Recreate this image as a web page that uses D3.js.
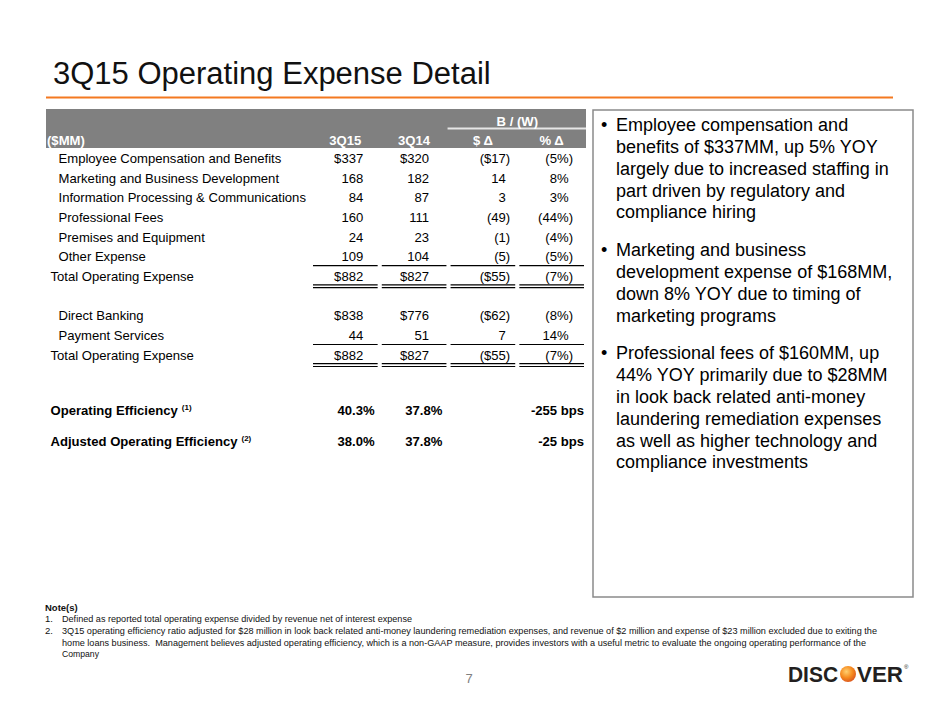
<!DOCTYPE html>
<html>
<head>
<meta charset="utf-8">
<script src="https://cdn.jsdelivr.net/npm/d3@7"></script>
<style>
  body { margin: 0; background: #fff; }
  svg { display: block; font-family: "Liberation Sans", Arial, sans-serif; }
</style>
</head>
<body>
<div id="drawing_region"></div>
<script>
// ---- data ----
const columns = ["3Q15", "3Q14", "$ Δ", "% Δ"];

const expenseLabels = [
    "Employee Compensation and Benefits",
    "Marketing and Business Development",
    "Information Processing & Communications",
    "Professional Fees",
    "Premises and Equipment",
    "Other Expense"
];
const exp3Q15 = [337, 168, 84, 160, 24, 109];
const exp3Q14 = [320, 182, 87, 111, 23, 104];
const expDollarChg = [-17, 14, 3, -49, -1, -5];
const expPctChg = [-5, 8, 3, -44, -4, -5];

const totalLabel = "Total Operating Expense";
const totalVals = [882, 827, -55, -7];

const segmentLabels = ["Direct Banking", "Payment Services"];
const seg3Q15 = [838, 44];
const seg3Q14 = [776, 51];
const segDollarChg = [-62, 7];
const segPctChg = [-8, 14];

const effLabels = ["Operating Efficiency", "Adjusted Operating Efficiency"];
const effNotes = ["(1)", "(2)"];
const eff3Q15 = [40.3, 38.0];
const eff3Q14 = [37.8, 37.8];
const effBps = [-255, -25];

const bullets = [
    ["Employee compensation and", "benefits of $337MM, up 5% YOY", "largely due to increased staffing in",
     "part driven by regulatory and", "compliance hiring"],
    ["Marketing and business", "development expense of $168MM,", "down 8% YOY due to timing of",
     "marketing programs"],
    ["Professional fees of $160MM, up", "44% YOY primarily due to $28MM", "in look back related anti-money",
     "laundering remediation expenses", "as well as higher technology and", "compliance investments"]
];

const noteLines = [
    {num: "1.", text: "Defined as reported total operating expense divided by revenue net of interest expense", w: 350},
    {num: "2.", text: "3Q15 operating efficiency ratio adjusted for $28 million in look back related anti-money laundering remediation expenses, and revenue of $2 million and expense of $23 million excluded due to exiting the", w: 815},
    {num: "", text: "home loans business.  Management believes adjusted operating efficiency, which is a non-GAAP measure, provides investors with a useful metric to evaluate the ongoing operating performance of the", w: 804},
    {num: "", text: "Company", w: 37}
];

// ---- helpers ----
const money = (v, dollar) => {
    const s = (dollar ? "$" : "") + Math.abs(v);
    return v < 0 ? `(${s})` : s;
};
const pct = v => v < 0 ? `(${Math.abs(v)}%)` : `${v}%`;

const svg = d3.select("#drawing_region").append("svg")
    .attr("width", 940)
    .attr("height", 705);

// title + orange rule
svg.append("text")
    .attr("x", 53).attr("y", 84)
    .attr("font-size", 31)
    .attr("fill", "#111")
    .text("3Q15 Operating Expense Detail");

svg.append("line")
    .attr("x1", 46).attr("x2", 893)
    .attr("y1", 97.5).attr("y2", 97.5)
    .attr("stroke", "#f47920")
    .attr("stroke-width", 2);

// ---- table ----
const fs = 13.1;
const parenW = 4.4;   // room kept for ")" on positive numbers
const x = d3.scaleBand().domain(columns).range([313, 584]).paddingInner(0.06);
const y = d3.scaleLinear().domain([0, 1]).range([158, 177.7]);
const yEff = d3.scalePoint().domain(effLabels).range([410.5, 441.5]);
const valInset = [10, 13, 5, 11];
const effInset = [3, 4, 0, 0];

const table = svg.append("g").attr("font-size", fs);

// header band
table.append("rect")
    .attr("x", 46).attr("y", 109)
    .attr("width", 540).attr("height", 39)
    .attr("fill", "#808080");

table.append("line")
    .attr("x1", x("$ Δ") - 3).attr("x2", 586)
    .attr("y1", 128.5).attr("y2", 128.5)
    .attr("stroke", "#e6e6e6")
    .attr("stroke-width", 2);

table.append("text")
    .attr("x", (x("$ Δ") + x("% Δ") + x.bandwidth()) / 2)
    .attr("y", 126)
    .attr("text-anchor", "middle")
    .attr("font-weight", "bold")
    .attr("fill", "#fff")
    .text("B / (W)");

table.append("text")
    .attr("x", 47).attr("y", 145)
    .attr("font-weight", "bold")
    .attr("fill", "#fff")
    .text("($MM)");

table.selectAll(".colhead")
    .data(columns)
    .enter()
    .append("text")
    .attr("class", "colhead")
    .attr("x", d => x(d) + x.bandwidth() / 2)
    .attr("y", 145)
    .attr("text-anchor", "middle")
    .attr("font-weight", "bold")
    .attr("fill", "#fff")
    .text(d => d);

// body rows
let rows = expenseLabels.map((l, i) => ({
    label: l, indent: true, slot: i, dollar: i === 0,
    vals: [exp3Q15[i], exp3Q14[i], expDollarChg[i], expPctChg[i]]
}));
rows.push({label: totalLabel, indent: false, slot: 6, dollar: true, total: true, vals: totalVals});
segmentLabels.forEach((l, i) => rows.push({
    label: l, indent: true, slot: 8 + i, dollar: i === 0,
    vals: [seg3Q15[i], seg3Q14[i], segDollarChg[i], segPctChg[i]]
}));
rows.push({label: totalLabel, indent: false, slot: 10, dollar: true, total: true, vals: totalVals});

const rowG = table.selectAll(".row")
    .data(rows)
    .enter()
    .append("g")
    .attr("class", "row")
    .attr("transform", d => `translate(0, ${y(d.slot)})`);

rowG.append("text")
    .attr("x", d => d.indent ? 58.5 : 50.5)
    .attr("y", 4.8)
    .attr("fill", "#000")
    .text(d => d.label);

rowG.selectAll(".val")
    .data(d => d.vals.map((v, j) => ({v, j, dollar: d.dollar})))
    .enter()
    .append("text")
    .attr("class", "val")
    .attr("x", d => x(columns[d.j]) + x.bandwidth() - valInset[d.j])
    .attr("dx", d => d.v < 0 ? 0 : -parenW)
    .attr("y", 4.8)
    .attr("text-anchor", "end")
    .attr("fill", "#000")
    .text(d => d.j === 3 ? pct(d.v) : money(d.v, d.dollar));

// rules above and below totals
const totals = rows.filter(d => d.total);
totals.forEach(t => {
    const yt = y(t.slot);
    const lines = [yt - 10.5, yt + 8.7, yt + 11.5];
    columns.forEach(c => {
        lines.forEach(ly => {
            table.append("line")
                .attr("x1", x(c)).attr("x2", x(c) + x.bandwidth())
                .attr("y1", ly).attr("y2", ly)
                .attr("stroke", "#000")
                .attr("stroke-width", 1.2);
        });
    });
});

// efficiency rows
const effRows = effLabels.map((l, i) => ({
    label: l, note: effNotes[i],
    vals: [eff3Q15[i].toFixed(1) + "%", eff3Q14[i].toFixed(1) + "%", null, effBps[i] + " bps"]
}));

const effG = table.selectAll(".eff")
    .data(effRows)
    .enter()
    .append("g")
    .attr("class", "eff")
    .attr("font-weight", "bold")
    .attr("transform", d => `translate(0, ${yEff(d.label)})`);

const effLabel = effG.append("text")
    .attr("x", 50.5)
    .attr("y", 4.8)
    .text(d => d.label);
effLabel.append("tspan")
    .attr("dx", 4)
    .attr("dy", -5)
    .attr("font-size", 8)
    .text(d => d.note);

effG.selectAll(".effval")
    .data(d => d.vals.map((v, j) => ({v, j})).filter(e => e.v !== null))
    .enter()
    .append("text")
    .attr("class", "effval")
    .attr("x", d => x(columns[d.j]) + x.bandwidth() - effInset[d.j])
    .attr("y", 4.8)
    .attr("text-anchor", "end")
    .text(d => d.v);

// ---- commentary box ----
svg.append("rect")
    .attr("x", 593).attr("y", 110)
    .attr("width", 320).attr("height", 487)
    .attr("fill", "none")
    .attr("stroke", "#8a8a8a")
    .attr("stroke-width", 1.5);

const lineH = 21.9;
const paraGap = 15.5;
let yy = 124.5;
const bulletG = svg.append("g").attr("font-size", 18).attr("fill", "#000");
bullets.forEach(par => {
    bulletG.append("text")
        .attr("x", 601).attr("y", yy + 6.3)
        .text("•");
    par.forEach((ln, k) => {
        bulletG.append("text")
            .attr("x", 616).attr("y", yy + k * lineH + 6.3)
            .text(ln);
    });
    yy += par.length * lineH + paraGap;
});

// ---- notes ----
const notesG = svg.append("g")
    .attr("font-family", "'Liberation Sans Narrow', 'Liberation Sans', Arial, sans-serif")
    .attr("font-size", 9.5)
    .attr("fill", "#111");

notesG.append("text")
    .attr("x", 45).attr("y", 610.5)
    .attr("font-weight", "bold")
    .text("Note(s)");

noteLines.forEach((n, i) => {
    const ny = 622.3 + i * 11.6;
    if (n.num) {
        notesG.append("text").attr("x", 45).attr("y", ny).text(n.num);
    }
    notesG.append("text")
        .attr("x", 62).attr("y", ny)
        .attr("textLength", n.w)
        .attr("lengthAdjust", "spacingAndGlyphs")
        .style("white-space", "pre")
        .text(n.text);
});

// page number
svg.append("text")
    .attr("x", 469).attr("y", 683)
    .attr("font-size", 13)
    .attr("fill", "#808080")
    .attr("text-anchor", "middle")
    .text("7");

// ---- logo ----
const defs = svg.append("defs");
const grad = defs.append("radialGradient")
    .attr("id", "logoO")
    .attr("cx", "40%").attr("cy", "35%").attr("r", "70%");
grad.append("stop").attr("offset", "0%").attr("stop-color", "#ffcf70");
grad.append("stop").attr("offset", "55%").attr("stop-color", "#f68b1f");
grad.append("stop").attr("offset", "100%").attr("stop-color", "#d9531e");

const logo = svg.append("g")
    .attr("font-weight", "bold")
    .attr("font-size", 22)
    .attr("fill", "#231f20");
logo.append("text")
    .attr("x", 788).attr("y", 682)
    .attr("textLength", 50)
    .attr("lengthAdjust", "spacingAndGlyphs")
    .text("DISC");
logo.append("circle")
    .attr("cx", 848).attr("cy", 674)
    .attr("r", 8)
    .attr("fill", "url(#logoO)");
logo.append("text")
    .attr("x", 857).attr("y", 682)
    .attr("textLength", 46)
    .attr("lengthAdjust", "spacingAndGlyphs")
    .text("VER");
logo.append("text")
    .attr("x", 904).attr("y", 669)
    .attr("font-size", 6)
    .attr("font-weight", "normal")
    .text("®");
</script>
</body>
</html>
